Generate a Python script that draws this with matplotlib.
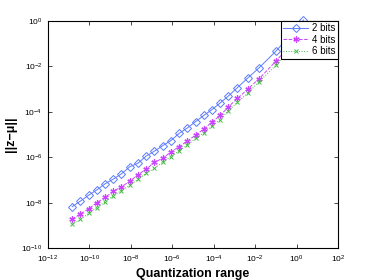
import numpy as np
import matplotlib
matplotlib.use("Agg")
import matplotlib.pyplot as plt

# log10 of quantization range (shared by all series)
log_range = [-10.83, -10.43, -10.03, -9.64, -9.24, -8.84, -8.45, -8.05, -7.65, -7.26,
             -6.86, -6.46, -6.07, -5.67, -5.27, -4.87, -4.48, -4.08, -3.69, -3.29,
             -2.86, -2.37, -1.81, -0.99, 0.33]

# log10 of ||z - mu|| per bit depth
log_err_2bits = [-8.18, -7.93, -7.67, -7.44, -7.17, -6.96, -6.73, -6.42, -6.26, -5.95,
                 -5.73, -5.49, -5.27, -4.95, -4.71, -4.43, -4.16, -3.90, -3.61, -3.30,
                 -2.94, -2.52, -2.06, -1.32, 0.04]
log_err_4bits = [-8.72, -8.50, -8.27, -8.00, -7.77, -7.50, -7.30, -7.06, -6.77, -6.52,
                 -6.23, -6.04, -5.77, -5.53, -5.29, -5.02, -4.76, -4.45, -4.16, -3.78,
                 -3.41, -3.01, -2.54, -1.76, -0.40]
log_err_6bits = [-8.96, -8.74, -8.47, -8.22, -7.97, -7.69, -7.47, -7.23, -6.97, -6.71,
                 -6.49, -6.22, -5.98, -5.71, -5.46, -5.17, -4.92, -4.63, -4.34, -3.96,
                 -3.58, -3.19, -2.67, -1.94, -0.55]

labels = ["2 bits", "4 bits", "6 bits"]

plt.rcParams["font.family"] = ["Liberation Sans", "DejaVu Sans"]
plt.rcParams["mathtext.fontset"] = "custom"
plt.rcParams["mathtext.rm"] = "Liberation Sans"
plt.rcParams["mathtext.default"] = "regular"

x = 10 ** np.array(log_range)

fig = plt.figure(figsize=(3.74, 2.8), dpi=100)
ax = fig.add_axes([0.128, 0.114, 0.776, 0.811])

ax.plot(x, 10 ** np.array(log_err_2bits), "-", color="#5b7bff", lw=0.7,
        marker="D", ms=3.6, mfc="none", mec="#5b7bff", mew=0.7, label=labels[0], clip_on=False)
ax.plot(x, 10 ** np.array(log_err_4bits), "--", color="#cc44ff", lw=0.7,
        marker=(6, 2, 0), ms=4.5, mec="#cc44ff", mew=0.9, label=labels[1], clip_on=False)
ax.plot(x, 10 ** np.array(log_err_6bits), ":", color="#44bb44", lw=0.7,
        marker="x", ms=3.2, mec="#44bb44", mew=0.7, label=labels[2], clip_on=False)

ax.set_xscale("log")
ax.set_yscale("log")
ax.set_xlim(1e-12, 1e2)
ax.set_ylim(1e-10, 1e0)
ax.set_xticks([10.0 ** k for k in range(-12, 3, 2)])
ax.set_yticks([10.0 ** k for k in range(-10, 1, 2)])
ax.minorticks_off()
ax.tick_params(direction="in", top=True, right=True, labelsize=6, length=3, width=0.5, pad=4)
for s in ax.spines.values():
    s.set_linewidth(0.8)

ax.set_xlabel("Quantization range", fontsize=9, fontweight="bold", labelpad=2)
ax.set_ylabel("||z\u2212\u03bc||", fontsize=9, fontweight="bold", labelpad=3)

leg = ax.legend(loc="upper right", fontsize=7, borderaxespad=0.0, fancybox=False,
                edgecolor="black", framealpha=1, handlelength=2.6, borderpad=0.25,
                labelspacing=0.15, handletextpad=0.4)
leg.get_frame().set_linewidth(0.8)
leg.set_zorder(5)

fig.savefig("out.png", dpi=100)
